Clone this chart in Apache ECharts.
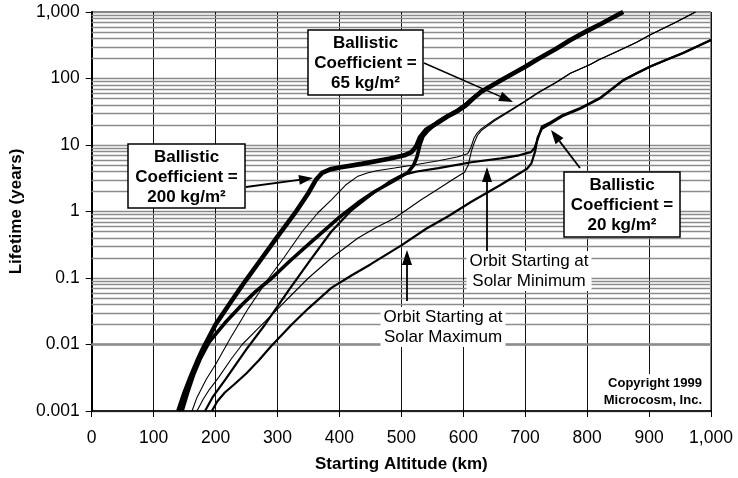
<!DOCTYPE html>
<html>
<head>
<meta charset="utf-8">
<script src="https://cdn.jsdelivr.net/npm/echarts@6/dist/echarts.min.js"></script>
<style>
html,body{margin:0;padding:0;background:#fff;}
#chart{width:738px;height:478px;}
</style>
</head>
<body>
<div id="chart"></div>
<script>
// ---- Data (altitude km, lifetime years) ----
const xTicks = [0,100,200,300,400,500,600,700,800,900,1000];
const xTickLabels = ['0','100','200','300','400','500','600','700','800','900','1,000'];
const yTicks = [0.001,0.01,0.1,1,10,100,1000];
const yTickLabels = ['0.001','0.01','0.1','1','10','100','1,000'];
const minorDecades = [0.001,0.01,0.1,1,10,100];
const minorSteps = [2,3,4,5,6,7,8,9];

// Ballistic coefficient 200 kg/m^2, orbit starting at solar minimum
const bc200SolarMin = [[140,0.001],[150,0.0019],[160,0.0033],[170,0.0055],[180,0.0088],[200,0.02],[229,0.05],[248,0.09],[275,0.2],[300,0.42],[330,1.0],[350,1.9],[362,3.0],[372,3.8],[385,4.3],[400,4.6],[436,5.2],[480,6.2],[505,7.0],[516,7.8],[524,9.5],[530,13],[540,17],[560,22],[575,27],[590,32],[602,38],[616,50],[629,63],[666,100],[700,150],[720,195],[750,280],[773,380],[800,520],[822,660],[840,810],[858,1000]];
// Ballistic coefficient 200 kg/m^2, orbit starting at solar maximum
const bc200SolarMax = [[146,0.001],[155,0.0019],[165,0.0036],[175,0.006],[190,0.011],[215,0.021],[243,0.04],[265,0.063],[291,0.1],[320,0.18],[350,0.32],[385,0.62],[400,0.82],[430,1.35],[457,2.0],[485,2.8],[511,3.9],[520,5.0],[525,6.5],[530,10],[535,13.5],[543,16.5],[560,22.8],[575,27.8],[590,33],[602,39.5],[616,51],[629,64],[666,100],[700,150],[720,195],[750,280],[773,380],[800,520],[822,660],[840,810],[858,1000]];
// Ballistic coefficient 65 kg/m^2, solar minimum start
const bc65SolarMin = [[162,0.001],[170,0.0016],[185,0.003],[200,0.005],[225,0.013],[253,0.035],[270,0.06],[286,0.1],[310,0.2],[340,0.5],[365,0.95],[387,1.5],[410,2.5],[430,3.4],[445,3.8],[460,4.1],[489,4.5],[520,5.0],[560,5.8],[590,6.6],[607,7.4],[612,9],[617,12.5],[622,15],[629,17.5],[650,24],[677,34],[700,46],[720,61],[750,88],[773,120],[805,162],[819,191],[850,260],[880,350],[902,454],[940,680],[975,1000]];
// Ballistic coefficient 65 kg/m^2, solar maximum start
const bc65SolarMax = [[170,0.001],[180,0.0015],[190,0.0021],[205,0.0032],[225,0.006],[243,0.01],[270,0.018],[300,0.034],[323,0.056],[350,0.1],[387,0.2],[430,0.4],[460,0.58],[489,0.79],[532,1.5],[560,2.2],[585,3.1],[602,3.9],[608,5],[613,8],[618,11],[623,14],[629,16.5],[650,23],[677,33],[700,45],[720,60],[750,87],[773,120],[805,162],[819,191],[850,260],[880,350],[902,454],[940,680],[975,1000]];
// Ballistic coefficient 20 kg/m^2, solar minimum start
const bc20SolarMin = [[183,0.001],[195,0.0016],[216,0.003],[250,0.0085],[280,0.02],[318,0.065],[350,0.17],[387,0.5],[420,1.05],[452,1.8],[480,2.8],[500,3.5],[525,4.0],[560,4.5],[613,5.5],[661,6.3],[690,7.0],[709,7.8],[715,9],[720,12],[727,19],[741,22],[760,28],[789,36],[805,43],[822,52],[840,70],[859,95],[880,120],[902,151],[930,195],[955,241],[980,310],[1000,380]];
// Ballistic coefficient 20 kg/m^2, solar maximum start
const bc20SolarMax = [[194,0.001],[203,0.0014],[215,0.0019],[230,0.0025],[250,0.0037],[270,0.0058],[290,0.0095],[323,0.02],[350,0.035],[387,0.071],[420,0.11],[450,0.16],[500,0.31],[540,0.55],[575,0.84],[613,1.4],[660,2.5],[703,4.4],[710,5.3],[716,8],[720,13],[727,17.5],[741,21],[760,27],[789,35],[805,42],[822,51],[840,69],[859,95],[880,120],[902,151],[930,195],[955,241],[980,310],[1000,380]];

// ---- Chart ----
const FONT = '"Liberation Sans", Arial, Helvetica, sans-serif';
const minorGrid = [];
minorDecades.forEach(d => minorSteps.forEach(s => minorGrid.push({yAxis: +(d*s).toPrecision(3)})));

function labelFor(v, ticks, labels){
  for (let i=0;i<ticks.length;i++){
    if (Math.abs(v - ticks[i]) <= Math.abs(ticks[i])*1e-6) return labels[i];
  }
  return '';
}

const chart = echarts.init(document.getElementById('chart'), null, {renderer:'canvas'});

function curve(name, data, width){
  return {
    name, type:'line', data, showSymbol:false, symbol:'none', smooth:false,
    lineStyle:{color:'#000', width:width}, z:3, animation:false, silent:true
  };
}

function arrow(x1,y1,x2,y2,len,half,w){
  const dx=x2-x1, dy=y2-y1, L=Math.sqrt(dx*dx+dy*dy);
  const ux=dx/L, uy=dy/L, px=-uy, py=ux;
  const bx=x2-ux*len, by=y2-uy*len;
  return [
    {type:'line', z:100, shape:{x1:x1,y1:y1,x2:bx,y2:by}, style:{stroke:'#000', lineWidth:w}},
    {type:'polygon', z:100, shape:{points:[[x2,y2],[bx+px*half,by+py*half],[bx-px*half,by-py*half]]}, style:{fill:'#000'}}
  ];
}

function box(x,y,w,h,lines){
  return [
    {type:'rect', z:100, shape:{x:x,y:y,width:w,height:h}, style:{fill:'#fff', stroke:'#000', lineWidth:1.5}},
    {type:'text', z:101, x:x+w/2, y:y+h/2+1, style:{text:lines.join('\n'), font:'bold 17px '+FONT, fill:'#000', align:'center', verticalAlign:'middle', lineHeight:20}}
  ];
}

function label(x,y,lines,font,align){
  return {type:'text', z:101, x:x, y:y, style:{text:lines.join('\n'), font:font, fill:'#000', align:align||'center', verticalAlign:'middle', lineHeight:20, backgroundColor:'#fff', padding:[0,3,0,3]}};
}

const graphics = [].concat(
  box(128,144,117,64,['Ballistic','Coefficient =','200 kg/m²']),
  box(308,30,115,65,['Ballistic','Coefficient =','65 kg/m²']),
  box(564,172,116,65,['Ballistic','Coefficient =','20 kg/m²']),
  arrow(246,187,313,178,14,5,1.8),
  arrow(424,63,513,102,14,5,1.5),
  arrow(580,168,551,130,14,5,1.8),
  arrow(487,252,487,167,15,5,1.8),
  arrow(407,301,407,250,15,5,1.8),
  [
    label(529,271,['Orbit Starting at','Solar Minimum'],'17px '+FONT),
    label(443,327,['Orbit Starting at','Solar Maximum'],'17px '+FONT),
    {type:'text', z:101, x:704, y:392, style:{text:'Copyright 1999\nMicrocosm, Inc.', font:'bold 13px '+FONT, fill:'#000', align:'right', verticalAlign:'middle', lineHeight:17, backgroundColor:'#fff', padding:[1,2,1,3]}}
  ]
);

const option = {
  animation:false,
  backgroundColor:'#fff',
  grid:{left:89, right:27, top:12, bottom:64, show:true, borderColor:'#000', borderWidth:1, backgroundColor:'#fff'},
  xAxis:{
    type:'value', min:0, max:1000, interval:100,
    name:'Starting Altitude (km)', nameLocation:'middle', nameGap:45,
    nameTextStyle:{fontFamily:FONT, fontWeight:'bold', fontSize:17, color:'#000'},
    axisLine:{show:true, onZero:false, lineStyle:{color:'#000', width:1.5}},
    axisTick:{show:true, length:6, lineStyle:{color:'#000', width:1}},
    axisLabel:{margin:18, fontFamily:FONT, fontSize:17.5, color:'#000', formatter:v=>labelFor(v,xTicks,xTickLabels)},
    splitLine:{show:true, lineStyle:{color:'#111', width:1}}
  },
  yAxis:{
    type:'log', logBase:10, min:0.001, max:1000,
    name:'Lifetime (years)', nameLocation:'middle', nameGap:64, nameRotate:90,
    nameTextStyle:{fontFamily:FONT, fontWeight:'bold', fontSize:17, color:'#000'},
    axisLine:{show:true, lineStyle:{color:'#000', width:2}},
    axisTick:{show:true, length:6, lineStyle:{color:'#000', width:1}},
    axisLabel:{margin:12, fontFamily:FONT, fontSize:17.5, color:'#000', formatter:v=>labelFor(v,yTicks,yTickLabels)},
    splitLine:{show:true, lineStyle:{color:'#8c8c8c', width:1.3}}
  },
  series:[
    {
      name:'grid-minor', type:'line', data:[], silent:true, z:1,
      markLine:{silent:true, symbol:['none','none'], z:1, animation:false, label:{show:false},
        lineStyle:{type:'solid', color:'#8c8c8c', width:1.3}, emphasis:{disabled:true}, data:minorGrid}
    },
    curve('BC 20 solar max', bc20SolarMax, 2.2),
    curve('BC 20 solar min', bc20SolarMin, 2.2),
    curve('BC 65 solar max', bc65SolarMax, 1.1),
    curve('BC 65 solar min', bc65SolarMin, 1.1),
    curve('BC 200 solar max', bc200SolarMax, 3.6),
    curve('BC 200 solar min', bc200SolarMin, 4.6)
  ],
  graphic:graphics
};
chart.setOption(option);
</script>
</body>
</html>
